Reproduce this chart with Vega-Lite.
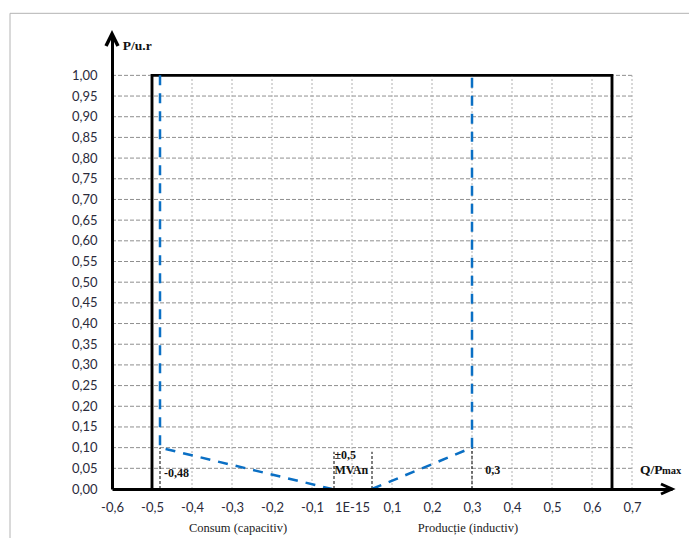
{
  "$schema": "https://vega.github.io/schema/vega-lite/v6.json",
  "width": 560,
  "height": 455,
  "autosize": "none",
  "padding": {"left": 112, "top": 34, "right": 17, "bottom": 49},
  "background": "white",
  "config": {
    "view": {"stroke": null},
    "axis": {"labelOverlap": false, "labelFlush": false, "labelBound": false}
  },
  "datasets": {
    "hgrid": [{"y":0.05},{"y":0.1},{"y":0.15},{"y":0.2},{"y":0.25},{"y":0.3},{"y":0.35},{"y":0.4},{"y":0.45},{"y":0.5},{"y":0.55},{"y":0.6},{"y":0.65},{"y":0.7},{"y":0.75},{"y":0.8},{"y":0.85},{"y":0.9},{"y":0.95},{"y":1.0}],
    "vgrid": [{"x":-0.5},{"x":-0.4},{"x":-0.3},{"x":-0.2},{"x":-0.1},{"x":0},{"x":0.1},{"x":0.2},{"x":0.3},{"x":0.4},{"x":0.5},{"x":0.6},{"x":0.7}],
    "box": [{"o":1,"x":-0.5,"y":0},{"o":2,"x":-0.5,"y":1.0},{"o":3,"x":0.65,"y":1.0},{"o":4,"x":0.65,"y":0}],
    "blue": [
      {"s":"consum","o":1,"x":-0.48,"y":1.0},
      {"s":"consum","o":2,"x":-0.48,"y":0.1},
      {"s":"consum","o":3,"x":-0.05,"y":0},
      {"s":"productie","o":1,"x":0.05,"y":0},
      {"s":"productie","o":2,"x":0.3,"y":0.1},
      {"s":"productie","o":3,"x":0.3,"y":1.0}
    ],
    "marks": [
      {"x":-0.48,"y":0,"y2":0.1},
      {"x":0.3,"y":0,"y2":0.1},
      {"x":-0.045,"y":0,"y2":0.09},
      {"x":0.05,"y":0,"y2":0.09}
    ],
    "frameV": [{"x":-0.855,"y":-0.12,"y2":1.15}],
    "frameH": [{"x":-0.855,"x2":0.86,"y":1.15}]
  },
  "layer": [
    {
      "data": {"name": "box"},
      "mark": {"type": "line", "color": "black", "strokeWidth": 2.5, "strokeJoin": "miter"},
      "encoding": {
        "x": {
          "field": "x", "type": "quantitative", "title": null,
          "scale": {"domain": [-0.6, 0.8], "nice": false, "zero": false},
          "axis": {
            "values": [-0.6,-0.5,-0.4,-0.3,-0.2,-0.1,0,0.1,0.2,0.3,0.4,0.5,0.6,0.7],
            "tickCount": 40,
            "labelExpr": "datum.value == 0 ? '1E-15' : replace(replace(format(datum.value, '.1f'), '.', ','), '\u2212', '-')",
            "ticks": false, "grid": false,
            "domainColor": "black", "domainWidth": 3,
            "labelPadding": 12, "labelFont": "Lato", "labelFontSize": 13, "labelColor": "#2b2b3b",
            "labelOverlap": false, "labelFlush": false, "labelBound": false, "zindex": 1
          }
        },
        "y": {
          "field": "y", "type": "quantitative", "title": null,
          "scale": {"domain": [0, 1.1], "nice": false, "zero": false},
          "axis": {
            "values": [0,0.05,0.1,0.15,0.2,0.25,0.3,0.35,0.4,0.45,0.5,0.55,0.6,0.65,0.7,0.75,0.8,0.85,0.9,0.95,1.0],
            "tickCount": 40,
            "labelExpr": "replace(format(datum.value, '.2f'), '.', ',')",
            "ticks": false, "grid": false,
            "domainColor": "black", "domainWidth": 3,
            "labelPadding": 15, "labelFont": "Lato", "labelFontSize": 13, "labelColor": "#2b2b3b",
            "labelOverlap": false, "labelFlush": false, "labelBound": false, "zindex": 1
          }
        },
        "order": {"field": "o"}
      }
    },
    {
      "data": {"name": "frameV"},
      "mark": {"type": "rule", "color": "#b4b4b4", "strokeWidth": 1},
      "encoding": {
        "x": {"field": "x", "type": "quantitative", "title": null},
        "y": {"field": "y", "type": "quantitative", "title": null},
        "y2": {"field": "y2"}
      }
    },
    {
      "data": {"name": "frameH"},
      "mark": {"type": "rule", "color": "#b4b4b4", "strokeWidth": 1},
      "encoding": {
        "x": {"field": "x", "type": "quantitative", "title": null},
        "x2": {"field": "x2"},
        "y": {"field": "y", "type": "quantitative", "title": null}
      }
    },
    {
      "data": {"name": "hgrid"},
      "mark": {"type": "rule", "color": "#8f8f8f", "strokeWidth": 1, "strokeDash": [4, 2]},
      "encoding": {
        "y": {"field": "y", "type": "quantitative", "title": null},
        "x": {"datum": -0.6, "type": "quantitative"},
        "x2": {"datum": 0.7}
      }
    },
    {
      "data": {"name": "vgrid"},
      "mark": {"type": "rule", "color": "#b0b0b0", "strokeWidth": 1, "strokeDash": [2, 2]},
      "encoding": {
        "x": {"field": "x", "type": "quantitative", "title": null},
        "y": {"datum": 0, "type": "quantitative"},
        "y2": {"datum": 1.0}
      }
    },
    {
      "data": {"name": "box"},
      "mark": {"type": "line", "color": "black", "strokeWidth": 2.5, "strokeJoin": "miter"},
      "encoding": {
        "x": {"field": "x", "type": "quantitative", "title": null},
        "y": {"field": "y", "type": "quantitative", "title": null},
        "order": {"field": "o"}
      }
    },
    {
      "data": {"name": "marks"},
      "mark": {"type": "rule", "color": "black", "strokeWidth": 1, "strokeDash": [3, 2]},
      "encoding": {
        "x": {"field": "x", "type": "quantitative", "title": null},
        "y": {"field": "y", "type": "quantitative", "title": null},
        "y2": {"field": "y2"}
      }
    },
    {
      "data": {"name": "blue"},
      "mark": {"type": "line", "color": "#0a6fc4", "strokeWidth": 2.5, "strokeDash": [10, 8]},
      "encoding": {
        "x": {"field": "x", "type": "quantitative", "title": null},
        "y": {"field": "y", "type": "quantitative", "title": null},
        "detail": {"field": "s"},
        "order": {"field": "o"}
      }
    },
    {
      "data": {"values": [{"x": 0.8, "y": 0}]},
      "mark": {"type": "point", "shape": "M-2.2,-1L0,0L-2.2,1", "size": 100, "filled": false, "stroke": "black", "strokeWidth": 3, "opacity": 1},
      "encoding": {
        "x": {"field": "x", "type": "quantitative", "title": null},
        "y": {"field": "y", "type": "quantitative", "title": null}
      }
    },
    {
      "data": {"values": [{"x": -0.6, "y": 1.1}]},
      "mark": {"type": "point", "shape": "M-1,2L0,0L1,2", "size": 144, "filled": false, "stroke": "black", "strokeWidth": 3.5, "opacity": 1},
      "encoding": {
        "x": {"field": "x", "type": "quantitative", "title": null},
        "y": {"field": "y", "type": "quantitative", "title": null}
      }
    },
    {
      "data": {"values": [
        {"x": -0.47, "y": 0.039, "t": "-0,48"},
        {"x": 0.333, "y": 0.046, "t": "0,3"},
        {"x": -0.044, "y": 0.083, "t": "±0,5"},
        {"x": -0.044, "y": 0.046, "t": "MVAn"}
      ]},
      "mark": {"type": "text", "align": "left", "baseline": "middle", "font": "Liberation Serif", "fontSize": 12, "fontWeight": "bold", "color": "#111"},
      "encoding": {
        "x": {"field": "x", "type": "quantitative", "title": null},
        "y": {"field": "y", "type": "quantitative", "title": null},
        "text": {"field": "t"}
      }
    },
    {
      "data": {"values": [
        {"x": -0.573, "y": 1.072, "t": "P/u.r"},
        {"x": 0.72, "y": 0.046, "t": "Q/P"}
      ]},
      "mark": {"type": "text", "align": "left", "baseline": "middle", "font": "Liberation Serif", "fontSize": 13.5, "fontWeight": "bold", "color": "#111"},
      "encoding": {
        "x": {"field": "x", "type": "quantitative", "title": null},
        "y": {"field": "y", "type": "quantitative", "title": null},
        "text": {"field": "t"}
      }
    },
    {
      "data": {"values": [{"x": 0.775, "y": 0.036, "t": "max"}]},
      "mark": {"type": "text", "align": "left", "baseline": "alphabetic", "font": "Liberation Serif", "fontSize": 10.5, "fontWeight": "bold", "color": "#111"},
      "encoding": {
        "x": {"field": "x", "type": "quantitative", "title": null},
        "y": {"field": "y", "type": "quantitative", "title": null},
        "text": {"field": "t"}
      }
    },
    {
      "data": {"values": [
        {"x": -0.285, "y": -0.094, "t": "Consum (capacitiv)"},
        {"x": 0.29, "y": -0.094, "t": "Producție (inductiv)"}
      ]},
      "mark": {"type": "text", "align": "center", "baseline": "middle", "font": "Liberation Serif", "fontSize": 12.5, "color": "#222"},
      "encoding": {
        "x": {"field": "x", "type": "quantitative", "title": null},
        "y": {"field": "y", "type": "quantitative", "title": null},
        "text": {"field": "t"}
      }
    }
  ]
}
